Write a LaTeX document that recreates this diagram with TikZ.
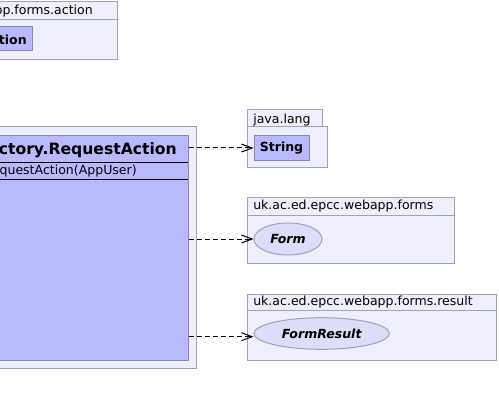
\documentclass[tikz,border=0pt]{standalone}
\usepackage{fontspec}
\setmainfont{DejaVu Sans}
\usetikzlibrary{arrows.meta,shapes.geometric,fit}
\definecolor{pkgfill}{RGB}{238,238,252}
\definecolor{pkgline}{RGB}{160,160,182}
\definecolor{clsfill}{RGB}{185,185,255}
\definecolor{clsline}{RGB}{136,136,176}
\definecolor{elfill}{RGB}{221,221,250}
\definecolor{elline}{RGB}{160,160,180}
\tikzset{
  pkg/.style={draw=pkgline, fill=pkgfill, line width=0.75pt, inner sep=0pt},
  cls/.style={draw=clsline, fill=clsfill, line width=0.75pt, inner sep=0pt},
  iface/.style={ellipse, draw=elline, fill=elfill, line width=0.75pt, inner sep=0pt,
    font=\fontsize{9.4pt}{11pt}\selectfont\bfseries\itshape},
  lbl/.style={inner sep=0pt, font=\fontsize{9.4pt}{11pt}\selectfont},
  blbl/.style={inner sep=0pt, font=\fontsize{9.4pt}{11pt}\selectfont\bfseries},
  title/.style={inner sep=0pt, font=\fontsize{11.7pt}{14pt}\selectfont\bfseries},
  dep/.style={draw=black, line width=0.75pt, dash pattern=on 3.75pt off 2.25pt,
    -{Straight Barb[length=8pt,width=6pt,line width=0.75pt]}},
}
\begin{document}
\begin{tikzpicture}[x=0.75pt,y=-0.75pt]
\useasboundingbox (0,0) rectangle (499,406);
\clip (0,0) rectangle (499,406);
% top-left package
\coordinate (a1) at (-130,2); \coordinate (a2) at (117,60);
\node[pkg, fit=(a1)(a2)] (pkgaction) {};
\draw[pkgline, line width=0.75pt] (-130,20) -- (117,20);
\node[lbl, anchor=base east] (pkgactionlbl) at (93,15) {uk.ac.ed.epcc.webapp.forms.action};
\coordinate (b1) at (-60,27); \coordinate (b2) at (32,51);
\node[cls, fit=(b1)(b2)] (formaction) {};
\node[blbl, anchor=base east] (formactionlbl) at (27,45) {FormAction};
% main package
\coordinate (c1) at (-150,127); \coordinate (c2) at (196,368);
\node[pkg, fit=(c1)(c2)] (pkgmain) {};
\coordinate (d1) at (-140,136); \coordinate (d2) at (188,360);
\node[cls, fit=(d1)(d2)] (cls) {};
\draw[black, line width=0.75pt] (-140,162) -- (188,162);
\draw[black, line width=0.75pt] (-140,179) -- (188,179);
\node[title, anchor=base east] (clstitle) at (177,155) {ActionFactory.RequestAction};
\node[lbl, anchor=base east] (clsmeth) at (137,174) {RequestAction(AppUser)};
% java.lang
\coordinate (e1) at (247,110); \coordinate (e2) at (322,127);
\node[pkg, fit=(e1)(e2)] (jltab) {};
\coordinate (f1) at (247,127); \coordinate (f2) at (327,167);
\node[pkg, fit=(f1)(f2)] (jl) {};
\node[lbl, anchor=base west] (jllbl) at (253,123) {java.lang};
\coordinate (g1) at (254,136); \coordinate (g2) at (309,160);
\node[cls, fit=(g1)(g2)] (str) {};
\node[blbl] (strlbl) at (str.center) {String};
% forms
\coordinate (h1) at (247,197); \coordinate (h2) at (454,263);
\node[pkg, fit=(h1)(h2)] (pkgforms) {};
\draw[pkgline, line width=0.75pt] (247,215) -- (454,215);
\node[lbl, anchor=base west] (formslbl) at (253,209) {uk.ac.ed.epcc.webapp.forms};
\node[iface, minimum width=51pt, minimum height=24pt] (form) at (288,239) {Form};
% result
\coordinate (i1) at (247,294); \coordinate (i2) at (496,360);
\node[pkg, fit=(i1)(i2)] (pkgresult) {};
\draw[pkgline, line width=0.75pt] (247,310) -- (496,310);
\node[lbl, anchor=base west] (resultlbl) at (253,305.5) {uk.ac.ed.epcc.webapp.forms.result};
\node[iface, minimum width=101.5pt, minimum height=23.7pt] (fr) at (321.7,333.5) {FormResult};
% dependencies
\draw[dep] (str.west -| cls.east) -- (str.west);
\draw[dep] (form.west -| cls.east) -- (form.west);
\draw[dep] ([yshift=-2.4pt]fr.west -| cls.east) -- ([yshift=-2.4pt]fr.west);
\end{tikzpicture}
\end{document}
